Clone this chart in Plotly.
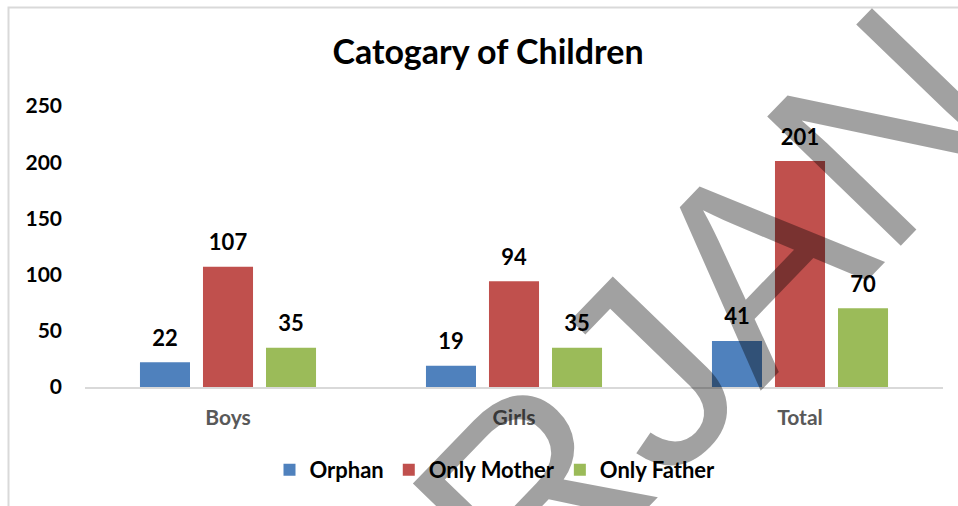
import plotly.graph_objects as go

categories = ["Boys", "Girls", "Total"]
series_names = ["Orphan", "Only Mother", "Only Father"]
orphan = [22, 19, 41]
only_mother = [107, 94, 201]
only_father = [35, 35, 70]
y_ticks = [0, 50, 100, 150, 200, 250]
title_text = "Catogary of Children"
watermark_text = "RJAN"

colors = ["#4F81BD", "#C0504D", "#9BBB59"]
series_values = [orphan, only_mother, only_father]

W, H = 958, 506
ML, MR, MT, MB = 85, 15, 106, 119
PW, PH = W - ML - MR, H - MT - MB

def px_to_paper(px, py):
    return (px - ML) / PW, (H - MB - py) / PH

FONT = "Lato, Open Sans, sans-serif"

fig = go.Figure()
for name, vals, col in zip(series_names, series_values, colors):
    fig.add_trace(go.Bar(
        name=name, x=categories, y=vals,
        marker=dict(color=col, line=dict(width=0)),
        hoverinfo="x+y+name",
    ))
for name, vals in zip(series_names, series_values):
    fig.add_trace(go.Scatter(
        x=categories, y=vals, mode="markers+text",
        text=[str(v) for v in vals], textposition="top center",
        textfont=dict(family=FONT, size=22, color="#000000", weight="bold"),
        marker=dict(size=16, color="rgba(0,0,0,0)"),
        showlegend=False, hoverinfo="skip", cliponaxis=False,
    ))

# outer chart border (left/top visible)
bx0, by1 = px_to_paper(8.5, 7.5)
fig.add_shape(type="rect", xref="paper", yref="paper",
              x0=bx0, x1=1.2, y0=-0.6, y1=by1,
              line=dict(color="#D9D9D9", width=2), fillcolor="rgba(0,0,0,0)", layer="below")

wx, wy = px_to_paper(708, 310)
fig.add_annotation(
    text=watermark_text, xref="paper", yref="paper", x=wx, y=wy,
    xanchor="center", yanchor="middle", showarrow=False, textangle=-46,
    font=dict(family="Liberation Sans, Arial, sans-serif", size=270, color="rgba(0,0,0,0.37)"),
)

lx, ly = px_to_paper(495, 470)
fig.update_layout(
    width=W, height=H,
    margin=dict(l=ML, r=MR, t=MT, b=MB, autoexpand=False),
    paper_bgcolor="white", plot_bgcolor="white",
    barmode="group", bargap=0.339, bargroupgap=0.206,
    scattermode="group",
    title=dict(text=title_text, x=488 / W, xref="container", xanchor="center",
               y=1 - 52 / H, yref="container", yanchor="middle",
               font=dict(family=FONT, size=34, color="#000000", weight="bold")),
    xaxis=dict(showline=True, linecolor="#D9D9D9", linewidth=2, showgrid=False,
               zeroline=False, ticks="", ticklabelstandoff=11,
               tickfont=dict(family=FONT, size=21, color="#595959", weight="bold")),
    yaxis=dict(range=[0, 250], tickvals=y_ticks, showgrid=False, zeroline=False,
               showline=False, ticks="", ticklabelstandoff=22,
               tickfont=dict(family=FONT, size=21, color="#000000", weight="bold")),
    legend=dict(orientation="h", x=lx, y=ly, xanchor="center", yanchor="middle",
                font=dict(family=FONT, size=22, color="#000000", weight="bold"),
                itemwidth=30, bgcolor="rgba(0,0,0,0)"),
    showlegend=True,
)

fig.write_html("out.html", config={"displayModeBar": False},
               post_script="document.body.style.margin='0';document.body.style.overflow='hidden';")
